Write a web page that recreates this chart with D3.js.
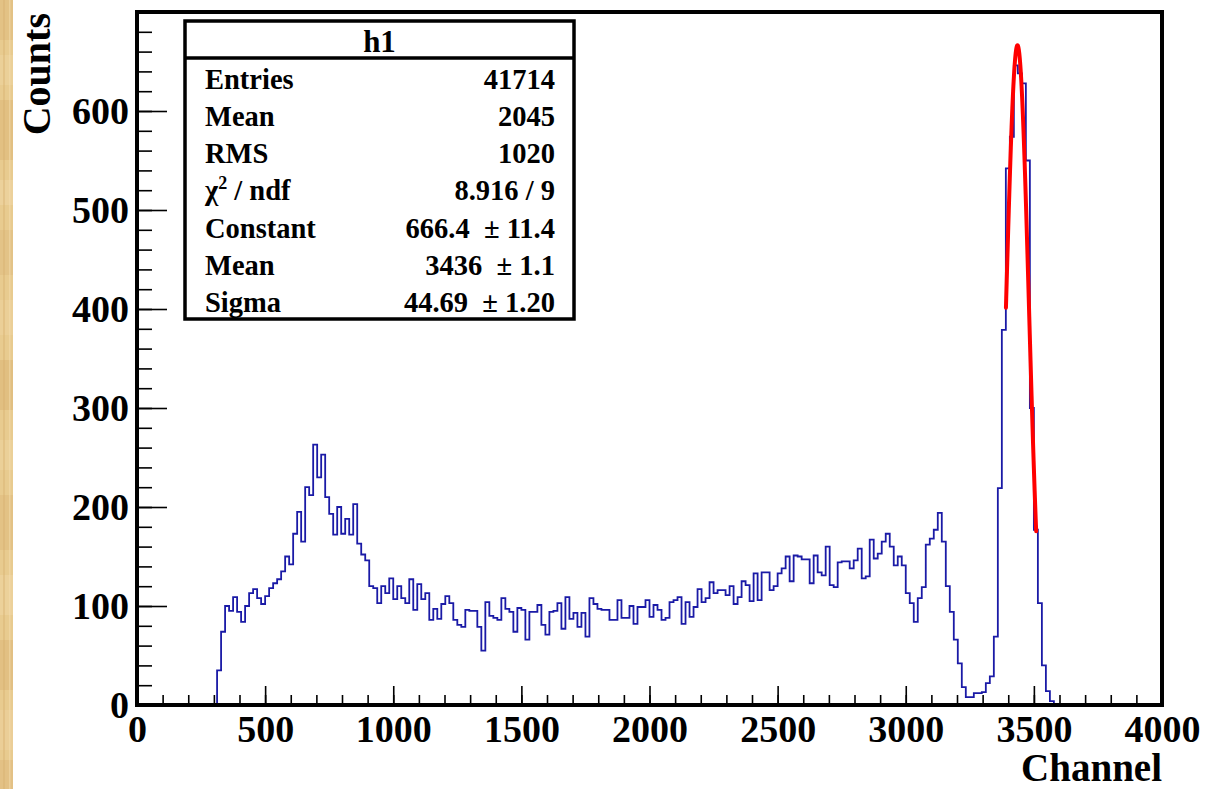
<!DOCTYPE html>
<html>
<head>
<meta charset="utf-8">
<script src="https://cdn.jsdelivr.net/npm/d3@7"></script>
<style>
  html, body { margin: 0; padding: 0; background: #ffffff; }
  svg { display: block; }
  text { font-family: "Liberation Serif", "Times New Roman", serif; font-weight: bold; fill: #000; }
</style>
</head>
<body>
<svg id="chart" width="1216" height="789"></svg>
<script>
// Histogram h1: counts per channel bin (256 bins spanning 0–4000)
const counts = [
  0, 0, 0, 0, 0, 0, 0, 0, 0, 0, 0, 0, 0, 0, 0, 0, 0, 0, 0, 0,
  35, 74, 100, 95, 109, 94, 84, 100, 113, 117, 108, 102, 110, 118, 123, 127, 135, 150, 142, 173,
  195, 165, 220, 212, 263, 230, 253, 210, 193, 172, 200, 173, 188, 172, 203, 163, 152, 146, 120, 118,
  103, 120, 113, 128, 107, 120, 108, 103, 127, 96, 122, 107, 113, 86, 97, 87, 102, 110, 103, 86,
  81, 79, 96, 95, 95, 79, 55, 104, 90, 88, 86, 108, 97, 94, 74, 98, 96, 66, 94, 94,
  101, 81, 71, 94, 95, 103, 77, 109, 87, 93, 79, 93, 69, 108, 102, 97, 96, 96, 86, 86,
  106, 88, 88, 100, 82, 99, 99, 106, 89, 101, 96, 86, 88, 104, 106, 109, 82, 104, 89, 99,
  117, 104, 108, 124, 113, 116, 116, 111, 120, 102, 109, 125, 121, 105, 133, 106, 134, 134, 116, 120,
  133, 138, 150, 125, 151, 150, 147, 147, 123, 151, 134, 131, 160, 121, 119, 144, 145, 145, 138, 146,
  158, 128, 130, 167, 148, 153, 165, 173, 160, 141, 150, 141, 113, 103, 84, 108, 119, 162, 168, 177,
  194, 165, 120, 94, 66, 42, 18, 8, 8, 12, 12, 13, 22, 29, 69, 219, 379, 542, 574, 646,
  638, 628, 550, 300, 177, 103, 40, 14, 4, 0, 0, 0, 0, 0, 0, 0, 0, 0, 0, 0,
  0, 0, 0, 0, 0, 0, 0, 0, 0, 0, 0, 0, 0, 0, 0, 0
];
const channelRange = [0, 4000];
const countRange = [0, 700];

// Gaussian fit parameters and fit window
const fitConstant = 666.4;
const fitMean = 3436;
const fitSigma = 44.69;
const fitWindow = [3391, 3509];

// Axis ticks
const xMajorTicks = [0, 500, 1000, 1500, 2000, 2500, 3000, 3500, 4000];
const xMinorTicks = d3.range(0, 4001, 100);
const yMajorTicks = [0, 100, 200, 300, 400, 500, 600];
const yMinorTicks = d3.range(0, 701, 20);

// Statistics box
const statTitle = "h1";
const statLabels = ["Entries", "Mean", "RMS", "chi2", "Constant", "Mean", "Sigma"];
const statValues = ["41714", "2045", "1020", "8.916 / 9", "666.4  \u00b1 11.4", "3436  \u00b1 1.1", "44.69  \u00b1 1.20"];

const xTitle = "Channel";
const yTitle = "Counts";

const svg = d3.select("#chart");
const W = 1216, H = 789;
const plot = { left: 137, right: 1162, top: 12, bottom: 705 };

// Tan textured strip along the left edge
const strip = svg.append("g");
strip.append("rect").attr("x", 0).attr("y", 0).attr("width", 13).attr("height", H).attr("fill", "#e8cb8f");
const streaks = [
  [0, 40, "#dfbd7f"], [55, 30, "#edd49e"], [100, 60, "#ddb979"], [180, 25, "#eed6a4"],
  [230, 45, "#dfbe82"], [300, 35, "#ecd29c"], [360, 50, "#dcb778"], [440, 30, "#edd39f"],
  [495, 55, "#dfbc7f"], [575, 40, "#eed5a2"], [640, 50, "#ddb97b"], [710, 40, "#ecd19c"], [760, 29, "#dfbb7e"]
];
strip.selectAll("rect.streak").data(streaks).join("rect")
  .attr("class", "streak")
  .attr("x", 0).attr("width", 13)
  .attr("y", d => d[0]).attr("height", d => d[1])
  .attr("fill", d => d[2]).attr("opacity", 0.6);
strip.append("rect").attr("x", 3).attr("y", 0).attr("width", 2).attr("height", H).attr("fill", "#d6b06e").attr("opacity", 0.4);
strip.append("rect").attr("x", 9).attr("y", 0).attr("width", 1.5).attr("height", H).attr("fill", "#f3deb0").attr("opacity", 0.5);

const x = d3.scaleLinear().domain(channelRange).range([plot.left, plot.right]);
const y = d3.scaleLinear().domain(countRange).range([plot.bottom, plot.top]);

// Histogram outline
const binWidth = (channelRange[1] - channelRange[0]) / counts.length;
const steps = counts.map((c, i) => [channelRange[0] + i * binWidth, c]);
steps.push([channelRange[1], counts[counts.length - 1]]);
const stepLine = d3.line().x(d => x(d[0])).y(d => y(d[1])).curve(d3.curveStepAfter);
svg.append("path")
  .attr("d", stepLine(steps))
  .attr("fill", "none")
  .attr("stroke", "#1a1aa6")
  .attr("stroke-width", 1.8);

// Gaussian fit curve
const gauss = c => fitConstant * Math.exp(-0.5 * Math.pow((c - fitMean) / fitSigma, 2));
const fitPts = d3.range(fitWindow[0], fitWindow[1] + 0.01, 1).map(c => [c, gauss(c)]);
svg.append("path")
  .attr("d", d3.line().x(d => x(d[0])).y(d => y(d[1]))(fitPts))
  .attr("fill", "none")
  .attr("stroke", "#ff0000")
  .attr("stroke-width", 4)
  .attr("stroke-linejoin", "round")
  .attr("stroke-linecap", "round");

// Axes: ticks point into the frame
const fontSize = 38;
const xMinor = svg.append("g").attr("transform", `translate(0,${plot.bottom})`)
  .call(d3.axisBottom(x).tickValues(xMinorTicks).tickSize(-10).tickFormat(""));
const xMajor = svg.append("g").attr("transform", `translate(0,${plot.bottom})`)
  .call(d3.axisBottom(x).tickValues(xMajorTicks).tickSize(-19).tickPadding(10).tickFormat(d3.format("d")));
const yMinor = svg.append("g").attr("transform", `translate(${plot.left},0)`)
  .call(d3.axisLeft(y).tickValues(yMinorTicks).tickSize(-15).tickFormat(""));
const yMajor = svg.append("g").attr("transform", `translate(${plot.left},0)`)
  .call(d3.axisLeft(y).tickValues(yMajorTicks).tickSize(-30).tickPadding(8).tickFormat(d3.format("d")));

[xMinor, xMajor, yMinor, yMajor].forEach(g => {
  g.select(".domain").remove();
  g.selectAll(".tick line").attr("stroke", "#000").attr("stroke-width", 1.6);
  g.selectAll(".tick text")
    .attr("font-family", '"Liberation Serif", "Times New Roman", serif')
    .attr("font-weight", "bold")
    .attr("font-size", fontSize)
    .attr("fill", "#000");
});

// Frame
svg.append("rect")
  .attr("x", plot.left).attr("y", plot.top)
  .attr("width", plot.right - plot.left).attr("height", plot.bottom - plot.top)
  .attr("fill", "none").attr("stroke", "#000").attr("stroke-width", 4);

// Axis titles
svg.append("text")
  .attr("x", plot.right).attr("y", 781)
  .attr("text-anchor", "end")
  .attr("font-size", 39)
  .text(xTitle);
svg.append("text")
  .attr("transform", `translate(50,${plot.top + 1}) rotate(-90)`)
  .attr("text-anchor", "end")
  .attr("font-size", 40)
  .text(yTitle);

// Statistics box
const box = { x0: 185, x1: 574, y0: 21, y1: 319, header: 58 };
const stats = svg.append("g");
stats.append("rect")
  .attr("x", box.x0).attr("y", box.y0)
  .attr("width", box.x1 - box.x0).attr("height", box.y1 - box.y0)
  .attr("fill", "#fff").attr("stroke", "#000").attr("stroke-width", 3.5);
stats.append("line")
  .attr("x1", box.x0).attr("x2", box.x1)
  .attr("y1", box.header).attr("y2", box.header)
  .attr("stroke", "#000").attr("stroke-width", 3.5);
stats.append("text")
  .attr("x", (box.x0 + box.x1) / 2).attr("y", 52)
  .attr("text-anchor", "middle")
  .attr("font-size", 31)
  .text(statTitle);

const rowBaseline = i => 88.5 + i * 37.3;
statLabels.forEach((lab, i) => {
  const t = stats.append("text")
    .attr("x", 205).attr("y", rowBaseline(i))
    .attr("font-size", 28.5);
  if (lab === "chi2") {
    t.append("tspan").text("\u03c7");
    t.append("tspan").attr("dy", -11).attr("font-size", 18).text("2");
    t.append("tspan").attr("dy", 11).text(" / ndf");
  } else {
    t.text(lab);
  }
});
statValues.forEach((val, i) => {
  stats.append("text")
    .attr("x", 555).attr("y", rowBaseline(i))
    .attr("text-anchor", "end")
    .attr("font-size", 28.5)
    .attr("xml:space", "preserve")
    .style("white-space", "pre")
    .text(val);
});
</script>
</body>
</html>
